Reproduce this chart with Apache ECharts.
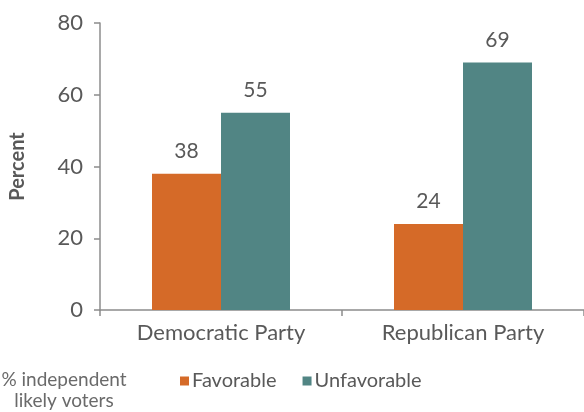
<!DOCTYPE html>
<html>
<head>
<meta charset="utf-8">
<script src="https://cdn.jsdelivr.net/npm/echarts@6/dist/echarts.min.js"></script>
<style>html,body{margin:0;padding:0;background:#fff}#c{width:584px;height:412px}</style>
</head>
<body>
<div id="c"></div>
<script>
var categories = ['Democratic Party', 'Republican Party'];
var favorable = [38, 24];
var unfavorable = [55, 69];
var yTicks = [0, 20, 40, 60, 80];

var FONT = 'Lato';
var TXT = '#595959';
var chart = echarts.init(document.getElementById('c'));
chart.setOption({
  animation: false,
  textStyle: {fontFamily: FONT},
  grid: {left: 100, right: 0, top: 23, bottom: 102},
  legend: {
    data: ['Favorable', 'Unfavorable'],
    left: 175, top: 366,
    icon: 'rect', itemWidth: 9, itemHeight: 9, itemGap: 26,
    textStyle: {fontFamily: FONT, fontSize: 20, color: TXT, padding: [0, 0, 0, -2]}
  },
  xAxis: {
    type: 'category', data: categories,
    axisLine: {lineStyle: {color: '#8c8c8c', width: 1.5}},
    axisTick: {show: true, length: 6, lineStyle: {color: '#8c8c8c', width: 1.5}},
    axisLabel: {fontFamily: FONT, fontSize: 22, color: TXT, margin: 12}
  },
  yAxis: {
    type: 'value', min: yTicks[0], max: yTicks[yTicks.length - 1], interval: 20,
    name: 'Percent', nameLocation: 'middle', nameGap: 72,
    nameTextStyle: {fontFamily: FONT, fontSize: 20, fontWeight: 'bold', color: TXT},
    axisLine: {show: true, lineStyle: {color: '#8c8c8c', width: 1.5}},
    axisTick: {show: true, length: 6, lineStyle: {color: '#8c8c8c', width: 1.5}},
    splitLine: {show: false},
    axisLabel: {fontFamily: FONT, fontSize: 22, color: TXT, margin: 17}
  },
  series: [
    {name: 'Favorable', type: 'bar', data: favorable, barWidth: 69, barGap: '0%',
     itemStyle: {color: '#D56A28'},
     label: {show: true, position: 'top', distance: 12, fontFamily: FONT, fontSize: 21, color: TXT}},
    {name: 'Unfavorable', type: 'bar', data: unfavorable, barWidth: 69, barGap: '0%',
     itemStyle: {color: '#518584'},
     label: {show: true, position: 'top', distance: 12, fontFamily: FONT, fontSize: 21, color: TXT}}
  ],
  graphic: [{
    type: 'text', x: 64, y: 369,
    style: {text: '% independent\nlikely voters', fontFamily: FONT, fontSize: 19, fill: '#6a6a6a',
            align: 'center', verticalAlign: 'top', lineHeight: 21}
  }]
});
</script>
</body>
</html>
